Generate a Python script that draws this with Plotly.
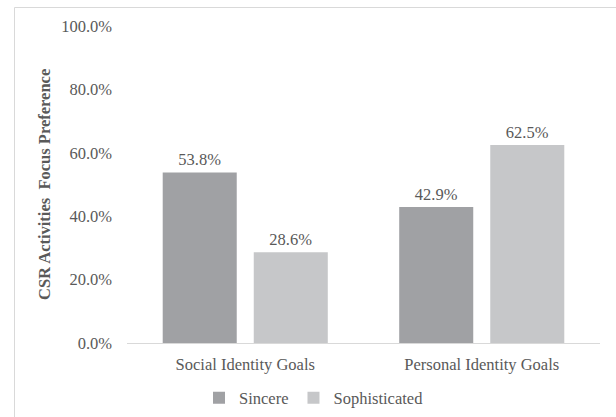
import plotly.graph_objects as go

categories = ["Social Identity Goals", "Personal Identity Goals"]
sincere = [53.8, 42.9]
sophisticated = [28.6, 62.5]
series_names = ["Sincere", "Sophisticated"]

W, H = 616, 417
L, R, T, B = 127, 16, 26, 74
pw, ph = W - L - R, H - T - B

font = "Liberation Serif"
txt = "#595959"
fs = 16.5

fig = go.Figure()
fig.add_trace(go.Bar(
    x=categories, y=sincere, name=series_names[0],
    marker=dict(color="#a0a1a4", line=dict(width=0)),
    text=[f"{v:.1f}%" for v in sincere], textposition="outside",
    textfont=dict(family=font, size=fs, color=txt), cliponaxis=False,
))
fig.add_trace(go.Bar(
    x=categories, y=sophisticated, name=series_names[1],
    marker=dict(color="#c6c7c9", line=dict(width=0)),
    text=[f"{v:.1f}%" for v in sophisticated], textposition="outside",
    textfont=dict(family=font, size=fs, color=txt), cliponaxis=False,
))

def px_x(p):
    return (p - L) / pw

def px_y(p):
    return (H - B - p) / ph

fig.update_layout(
    width=W, height=H,
    margin=dict(l=L, r=R, t=T, b=B, autoexpand=False),
    paper_bgcolor="white", plot_bgcolor="white",
    barmode="group", bargap=0.23, bargroupgap=0.187,
    font=dict(family=font, size=fs, color=txt),
    showlegend=True,
    legend=dict(orientation="h", x=px_x(314), xanchor="center",
                y=px_y(398), yanchor="middle",
                font=dict(family=font, size=fs, color=txt),
                itemwidth=30, traceorder="normal"),
    xaxis=dict(showgrid=False, showline=True, linecolor="#d9d9d9", linewidth=1,
               ticks="", automargin=False, ticklabelstandoff=6,
               tickfont=dict(family=font, size=fs, color=txt)),
    yaxis=dict(range=[0, 100], tickvals=[0, 20, 40, 60, 80, 100],
               ticktext=["0.0%", "20.0%", "40.0%", "60.0%", "80.0%", "100.0%"],
               showgrid=False, zeroline=False, showline=False, ticks="",
               ticklabelstandoff=14, automargin=False,
               tickfont=dict(family=font, size=fs, color=txt)),
)

fig.add_annotation(
    text="<b>CSR Activities  Focus Preference</b>", textangle=-90,
    xref="paper", yref="paper", x=px_x(44), y=px_y(185),
    xanchor="center", yanchor="middle",
    showarrow=False, font=dict(family=font, size=fs, color=txt),
)

fig.add_shape(type="rect", xref="paper", yref="paper",
              x0=px_x(14.5), x1=px_x(625), y0=px_y(425), y1=px_y(7.5),
              line=dict(color="#d9d9d9", width=1), fillcolor="rgba(0,0,0,0)",
              layer="below")

fig.write_html("out.html")
